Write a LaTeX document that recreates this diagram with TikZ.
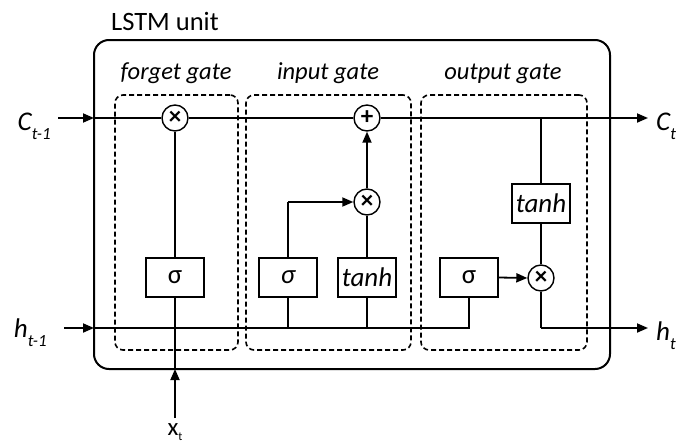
\documentclass[tikz,border=0pt]{standalone}
\usepackage{fontspec}
\setmainfont{Carlito}
\usetikzlibrary{arrows.meta}
\newcommand{\lbl}[2]{{\itshape #1}\raisebox{-0.35em}{\fontsize{17}{19}\selectfont\itshape #2}}
\begin{document}
\begin{tikzpicture}[x=1pt,y=-1pt,
  line/.style={line width=1.8pt},
  arr/.style={line width=1.8pt,-{Triangle[length=11pt,width=9pt]}},
  gatebox/.style={draw,dashed,line width=1.6pt,dash pattern=on 5pt off 3pt,rounded corners=8pt,inner sep=0pt},
  fbox/.style={draw,line width=1.4pt,minimum width=58pt,minimum height=39pt,inner sep=0pt,font=\fontsize{27}{30}\selectfont},
  op/.style={draw,circle,line width=1.4pt,minimum size=26pt,inner sep=0pt,fill=white,font=\fontsize{25}{27}\selectfont\bfseries},
  title/.style={font=\fontsize{26.5}{30}\selectfont},
  gatelbl/.style={font=\fontsize{24.5}{28}\selectfont\itshape},
  iolbl/.style={font=\fontsize{27}{30}\selectfont}]
\useasboundingbox (0,0) rectangle (688,442);

% LSTM cell outline and title
\node[draw,line width=2pt,rounded corners=15pt,minimum width=516pt,minimum height=329pt,inner sep=0pt] (cell) at (352,204.5) {};
\node[title,anchor=base west,inner sep=0pt] (ttl) at (111,30) {LSTM unit};

% gate regions
\node[gatebox,minimum width=123pt,minimum height=255pt] (fg) at (176.5,222.5) {};
\node[gatebox,minimum width=165pt,minimum height=255pt] (ig) at (328.5,222.5) {};
\node[gatebox,minimum width=166pt,minimum height=255pt] (og) at (504,222.5) {};
\node[gatelbl,anchor=base,inner sep=0pt] (fgl) at (176,79) {forget gate};
\node[gatelbl,anchor=base,inner sep=0pt] (igl) at (328,79) {input gate};
\node[gatelbl,anchor=base,inner sep=0pt] (ogl) at (503,79) {output gate};

% operators
\node[op] (fx) at (175,118) {×};
\node[op] (pl) at (367,118) {+};
\node[op] (ix) at (367,202) {×};
\node[op] (ox) at (541,278) {×};

% activation blocks
\node[fbox] (s1) at (175,277.5) {σ};
\node[fbox] (s2) at (288,277.5) {\itshape σ};
\node[fbox] (t1) at (367,277.5) {\itshape tanh};
\node[fbox] (s3) at (469,277.5) {σ};
\node[fbox] (t2) at (541,203.5) {\itshape tanh};

% terminal points
\coordinate (cin) at (58,118);
\coordinate (cL) at (94,118);
\coordinate (cout) at (648,118);
\coordinate (hin) at (64,328);
\coordinate (hL) at (94,328);
\coordinate (hout) at (648,328);
\coordinate (xs) at (175,418);
\coordinate (xb) at (175,369);

% labels
\node[iolbl,anchor=base east,inner sep=0pt] (cinl) at (51,130) {\lbl{C}{t-1}};
\node[iolbl,anchor=base east,inner sep=0pt] (hinl) at (47,337) {\lbl{h}{t-1}};
\node[iolbl,anchor=base west,inner sep=0pt] (coutl) at (656,130) {\lbl{C}{t}};
\node[iolbl,anchor=base west,inner sep=0pt] (houtl) at (656,340) {\lbl{h}{t}};
\node[anchor=north,inner sep=0pt,font=\fontsize{25}{27}\selectfont] (xl) at (175,423) {x\raisebox{-0.2em}{\fontsize{12}{13}\selectfont t}};

% cell state path
\draw[arr] (cin) -- (cL);
\draw[line] (cL) -- (fx);
\draw[line] (fx) -- (pl);
\draw[arr] (pl) -- (cout);

% hidden state and input paths
\draw[arr] (hin) -- (hL);
\draw[line] (hL) -- (s3.south |- hL) -- (s3.south);
\draw[line] (s2.south) -- (s2.south |- hL);
\draw[line] (t1.south) -- (t1.south |- hL);
\draw[arr] (xs) -- (xb);
\draw[line] (xb) -- (s1.south);

% forget gate
\draw[line] (s1.north) -- (fx.south);

% input gate
\draw[line] (s2.north) -- (s2.north |- ix);
\draw[arr] (s2.north |- ix) -- (ix.west);
\draw[line] (t1.north) -- (ix.south);
\draw[arr] (ix.north) -- (pl.south);

% output gate
\draw[line] (t2.north |- pl) -- (t2.north);
\draw[line] (t2.south) -- (ox.north);
\draw[arr] (s3.east) -- (ox.west);
\draw[line] (ox.south) -- (ox.south |- hL);
\draw[arr] (ox.south |- hL) -- (hout);
\end{tikzpicture}
\end{document}
